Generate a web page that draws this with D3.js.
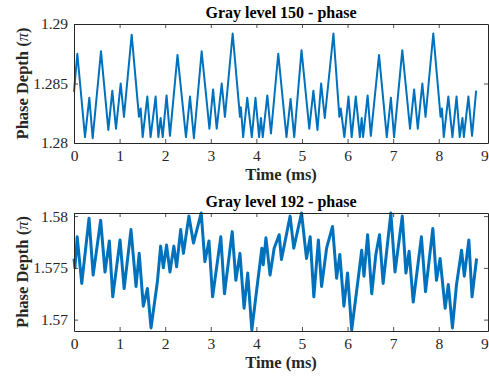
<!DOCTYPE html>
<html>
<head>
<meta charset="utf-8">
<script src="https://cdn.jsdelivr.net/npm/d3@7"></script>
<style>
  body { margin: 0; background: #fff; }
  text { font-family: "Liberation Serif", "Times New Roman", serif; }
</style>
</head>
<body>
<div id="chart"></div>
<script>
// gray level 150 - phase (time in ms, phase depth in pi)
const t150 = [0, 0.073, 0.241, 0.336, 0.41, 0.592, 0.753, 0.84, 0.921, 1.024, 1.096, 1.265,
  1.425, 1.462, 1.506, 1.608, 1.68, 1.79, 1.85, 1.90, 1.945, 2.03, 2.105, 2.27, 2.456, 2.544,
  2.63, 2.80, 2.97, 3.05, 3.13, 3.24, 3.31, 3.48, 3.64, 3.66, 3.71, 3.80, 3.90, 3.98, 4.06,
  4.10, 4.14, 4.24, 4.32, 4.48, 4.66, 4.75, 4.83, 4.99, 5.16, 5.25, 5.34, 5.42, 5.50, 5.69,
  5.82, 5.85, 5.93, 6.02, 6.09, 6.18, 6.27, 6.31, 6.34, 6.44, 6.51, 6.69, 6.86, 6.95, 7.02,
  7.20, 7.37, 7.46, 7.54, 7.64, 7.71, 7.88, 8.04, 8.07, 8.11, 8.21, 8.30, 8.39, 8.46, 8.52,
  8.55, 8.65, 8.73, 8.82];
const v150 = [1.2843, 1.2875, 1.2805, 1.2838, 1.2804, 1.2877, 1.2811, 1.2844, 1.2812, 1.2850,
  1.2822, 1.2891, 1.2822, 1.2829, 1.2805, 1.2839, 1.2805, 1.2839, 1.2805, 1.2821, 1.2805,
  1.2840, 1.2806, 1.2874, 1.2805, 1.2839, 1.2804, 1.2877, 1.2812, 1.2845, 1.2812, 1.2850,
  1.2822, 1.2892, 1.2822, 1.2830, 1.2805, 1.2838, 1.2805, 1.2838, 1.2805, 1.2821, 1.2805,
  1.2840, 1.2808, 1.2875, 1.2805, 1.2837, 1.2805, 1.2878, 1.2812, 1.2844, 1.2811, 1.2850,
  1.2821, 1.2892, 1.2822, 1.2829, 1.2805, 1.2839, 1.2805, 1.2839, 1.2805, 1.2821, 1.2805,
  1.2840, 1.2806, 1.2874, 1.2805, 1.2838, 1.2805, 1.2878, 1.2812, 1.2845, 1.2812, 1.2850,
  1.2822, 1.2892, 1.2822, 1.2829, 1.2805, 1.2839, 1.2805, 1.2839, 1.2805, 1.2821, 1.2805,
  1.2839, 1.2806, 1.2844];

// gray level 192 - phase
const t192 = [0, 0.02, 0.07, 0.17, 0.33, 0.42, 0.585, 0.68, 0.775, 0.85, 1.01, 1.10, 1.25,
  1.36, 1.43, 1.52, 1.61, 1.69, 1.83, 1.90, 1.96, 2.03, 2.105, 2.19, 2.25, 2.34, 2.40, 2.52,
  2.62, 2.79, 2.87, 2.96, 3.04, 3.22, 3.30, 3.47, 3.55, 3.64, 3.73, 3.81, 3.90, 4.01, 4.12,
  4.15, 4.21, 4.30, 4.39, 4.50, 4.55, 4.74, 4.82, 4.99, 5.10, 5.18, 5.26, 5.36, 5.43, 5.54,
  5.67, 5.76, 5.83, 5.92, 6.00, 6.09, 6.24, 6.31, 6.36, 6.44, 6.53, 6.62, 6.70, 6.78, 6.95,
  7.04, 7.20, 7.28, 7.35, 7.44, 7.62, 7.71, 7.87, 7.95, 8.03, 8.14, 8.21, 8.30, 8.39, 8.50,
  8.56, 8.66, 8.73, 8.83];
const v192 = [1.5759, 1.5750, 1.5780, 1.5735, 1.5798, 1.5743, 1.5796, 1.5746, 1.5776, 1.5722,
  1.5777, 1.5730, 1.5787, 1.5732, 1.5764, 1.5713, 1.5730, 1.5692, 1.5737, 1.5771, 1.5750,
  1.5772, 1.5746, 1.5771, 1.5751, 1.5787, 1.5764, 1.5800, 1.5774, 1.5803, 1.5756, 1.5776,
  1.5722, 1.5780, 1.5725, 1.5785, 1.5738, 1.5764, 1.5711, 1.5745, 1.5690, 1.5730, 1.5769,
  1.5753, 1.5779, 1.5743, 1.5769, 1.5782, 1.5758, 1.5800, 1.5769, 1.5803, 1.5759, 1.5780,
  1.5722, 1.5777, 1.5732, 1.5769, 1.5790, 1.5740, 1.5763, 1.5713, 1.5745, 1.5690, 1.5742,
  1.5767, 1.5742, 1.5782, 1.5725, 1.5763, 1.5782, 1.5735, 1.5803, 1.5746, 1.5800, 1.5745,
  1.5766, 1.5717, 1.5780, 1.5727, 1.5788, 1.5738, 1.5759, 1.5711, 1.5734, 1.5692, 1.5734,
  1.5767, 1.5742, 1.5777, 1.5722, 1.5759];

const xTicks = [0, 1, 2, 3, 4, 5, 6, 7, 8, 9];
const yTicks150 = [1.28, 1.285, 1.29];
const yTicks192 = [1.57, 1.575, 1.58];

const W = 489, H = 381;
const svg = d3.select("#chart").append("svg")
  .attr("width", W)
  .attr("height", H);

const axisColor = "#262626";
const lineColor = "#0072BD";

function drawPanel(opts) {
  const x = d3.scaleLinear().domain([0, 9.08]).range([74, 488]);
  const y = d3.scaleLinear().domain(opts.yDomain).range([opts.bottom, opts.top]);
  const g = svg.append("g");

  // data line
  const pts = opts.t.map((d, i) => [d, opts.v[i]]);
  const line = d3.line()
    .x(d => x(d[0]))
    .y(d => y(d[1]));
  g.append("path")
    .datum(pts)
    .attr("fill", "none")
    .attr("stroke", lineColor)
    .attr("stroke-width", opts.lw)
    .attr("stroke-linejoin", "round")
    .attr("d", line);

  // axes with inward ticks, box on
  const tl = 4;
  const xb = g.append("g")
    .attr("transform", "translate(0," + opts.bottom + ")")
    .call(d3.axisBottom(x).tickValues(xTicks).tickFormat(d3.format("d")).tickSizeInner(-tl).tickSizeOuter(0).tickPadding(7));
  const xt = g.append("g")
    .attr("transform", "translate(0," + opts.top + ")")
    .call(d3.axisTop(x).tickValues(xTicks).tickFormat("").tickSizeInner(-tl).tickSizeOuter(0));
  const yl = g.append("g")
    .attr("transform", "translate(74,0)")
    .call(d3.axisLeft(y).tickValues(opts.yTicks).tickFormat(d => String(+d.toFixed(3))).tickSizeInner(-tl).tickSizeOuter(0).tickPadding(6));
  const yr = g.append("g")
    .attr("transform", "translate(488,0)")
    .call(d3.axisRight(y).tickValues(opts.yTicks).tickFormat("").tickSizeInner(-tl).tickSizeOuter(0));

  [xb, xt, yl, yr].forEach(a => {
    a.select(".domain").attr("stroke", axisColor).attr("stroke-width", 1);
    a.selectAll(".tick line").attr("stroke", axisColor).attr("stroke-width", 0.8);
    a.selectAll(".tick text")
      .attr("fill", axisColor)
      .style("font-family", '"Liberation Serif", serif')
      .style("font-size", "15.5px");
  });
  // hide tick at 9 beyond the box
  xb.selectAll(".tick").filter(d => d === 9).select("line").remove();
  xt.selectAll(".tick").filter(d => d === 9).remove();

  // title
  g.append("text")
    .attr("x", 281)
    .attr("y", opts.top - 6)
    .attr("text-anchor", "middle")
    .style("font-size", "16px")
    .style("font-weight", "bold")
    .attr("fill", "#000")
    .text(opts.title);

  // x label
  g.append("text")
    .attr("x", 281)
    .attr("y", opts.bottom + 37)
    .attr("text-anchor", "middle")
    .style("font-size", "16.5px")
    .style("font-weight", "bold")
    .attr("fill", axisColor)
    .text("Time (ms)");

  // y label
  const cy = (opts.top + opts.bottom) / 2;
  const yLab = g.append("text")
    .attr("transform", "translate(28," + cy + ") rotate(-90)")
    .attr("text-anchor", "middle")
    .style("font-size", "16.5px")
    .style("font-weight", "bold")
    .attr("fill", axisColor);
  yLab.append("tspan").text("Phase Depth (");
  yLab.append("tspan").style("font-style", "italic").style("font-weight", "normal").text("\u03C0");
  yLab.append("tspan").text(")");
}

drawPanel({ t: t150, v: v150, yDomain: [1.28, 1.29], yTicks: yTicks150,
  top: 24, bottom: 143, lw: 2, title: "Gray level 150 - phase" });
drawPanel({ t: t192, v: v192, yDomain: [1.5689, 1.5803], yTicks: yTicks192,
  top: 213, bottom: 331, lw: 3, title: "Gray level 192 - phase" });
</script>
</body>
</html>
